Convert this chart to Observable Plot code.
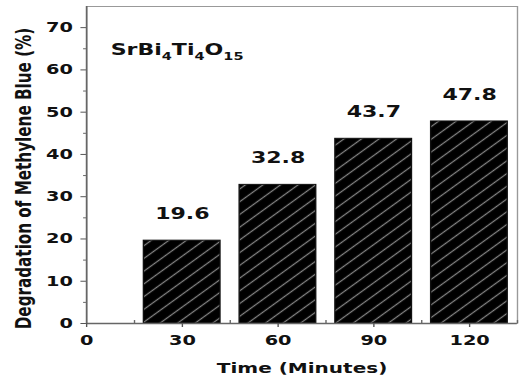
<!DOCTYPE html>
<html><head><meta charset="utf-8">
<script src="https://cdn.jsdelivr.net/npm/d3@7"></script>
<script src="https://cdn.jsdelivr.net/npm/@observablehq/plot@0.6"></script>
<style>
body{margin:0;background:#fff;overflow:hidden}
#chart svg{display:block;transform:scaleX(1.3796);transform-origin:0 0}
</style>
</head><body><div id="chart"></div>
<script>
const times = [30, 60, 90, 120];
const degradation = [19.6, 32.8, 43.7, 47.8];
const xTicks = [0, 30, 60, 90, 120];
const xMinorTicks = [15, 45, 75, 105, 135];
const yTicks = [0, 10, 20, 30, 40, 50, 60, 70];
const yMinorTicks = [5, 15, 25, 35, 45, 55, 65];
const formulaParts = ["SrBi", "4", "Ti", "4", "O", "15"];
const formulaIsSub = [false, true, false, true, false, true];
const xLabel = "Time (Minutes)";
const yLabel = "Degradation of Methylene Blue (%)";
const barHalfWidth = 12;

const data = times.map((t, i) => ({time: t, value: degradation[i]}));
const sampleName = formulaParts.join("");

const hatchDefs = () => {
  const ns = "http://www.w3.org/2000/svg";
  const defs = document.createElementNS(ns, "defs");
  const p = document.createElementNS(ns, "pattern");
  p.setAttribute("id", "hatch");
  p.setAttribute("width", "9");
  p.setAttribute("height", "9");
  p.setAttribute("patternUnits", "userSpaceOnUse");
  p.setAttribute("patternTransform", "rotate(-45)");
  const r = document.createElementNS(ns, "rect");
  r.setAttribute("width", "9"); r.setAttribute("height", "9"); r.setAttribute("fill", "#000");
  const l = document.createElementNS(ns, "line");
  l.setAttribute("x1", "0"); l.setAttribute("y1", "4.5"); l.setAttribute("x2", "9"); l.setAttribute("y2", "4.5");
  l.setAttribute("stroke", "#858585"); l.setAttribute("stroke-width", "1.1");
  p.appendChild(r); p.appendChild(l); defs.appendChild(p);
  return defs;
};

const fontStyle = {fontWeight: "bold", fill: "#111"};

const chart = Plot.plot({
  width: 382,
  height: 381,
  marginLeft: 62.3,
  marginRight: 7.4,
  marginTop: 6,
  marginBottom: 58,
  style: {fontFamily: "'DejaVu Sans', Verdana, sans-serif", fontWeight: "bold", background: "#fff", color: "#111"},
  x: {domain: [0, 135], axis: null},
  y: {domain: [0, 75], axis: null},
  marks: [
    hatchDefs,
    Plot.frame({stroke: "#999", strokeWidth: 1}),
    Plot.rectY(data, {x1: d => d.time - barHalfWidth, x2: d => d.time + barHalfWidth, y: "value", fill: "url(#hatch)", stroke: "#111", strokeWidth: 1}),
    Plot.text(data, {x: "time", y: "value", text: d => d.value.toFixed(1), dy: -27, fontSize: 16, ...fontStyle}),
    Plot.ruleY([0], {stroke: "#666", strokeWidth: 1.5}),
    Plot.ruleX([0], {stroke: "#666", strokeWidth: 1.2}),
    Plot.ruleX(xMinorTicks, {x: d => d, y1: 0, y2: 0.7, stroke: "#666"}),
    Plot.ruleY(yMinorTicks, {y: d => d, x1: -0.9, x2: 0, stroke: "#666"}),
    Plot.axisX(xTicks, {tickSize: 4, tickPadding: 8, fontSize: 14, fontWeight: "bold", fill: "#111", stroke: "#555", label: null}),
    Plot.axisY(yTicks, {tickSize: 4, tickPadding: 6, fontSize: 14, fontWeight: "bold", fill: "#111", stroke: "#555", label: null}),
    Plot.text([xLabel], {text: d => d, frameAnchor: "bottom", dy: 45, fontSize: 14.5, lineAnchor: "middle", ...fontStyle}),
    Plot.text([yLabel], {text: d => d, frameAnchor: "left", textAnchor: "middle", rotate: -90, dx: -45, dy: 13.5, fontSize: 15.2, lineAnchor: "middle", ...fontStyle}),
    Plot.text([sampleName], {text: d => d, className: "formula", frameAnchor: "top-left", textAnchor: "start", dx: 17.4, dy: 43, fontSize: 16, lineAnchor: "middle", ...fontStyle})
  ]
});

// render the sample formula with real subscripts
const ft = chart.querySelector("g.formula text");
if (ft) {
  const ns = "http://www.w3.org/2000/svg";
  ft.textContent = "";
  let shifted = false;
  formulaParts.forEach((part, i) => {
    const ts = document.createElementNS(ns, "tspan");
    ts.textContent = part;
    if (formulaIsSub[i]) {
      ts.setAttribute("font-size", "10.5");
      if (!shifted) { ts.setAttribute("dy", "5"); shifted = true; }
    } else if (shifted) {
      ts.setAttribute("dy", "-5"); shifted = false;
    }
    ft.appendChild(ts);
  });
}
document.getElementById("chart").appendChild(chart);
</script>
</body></html>
